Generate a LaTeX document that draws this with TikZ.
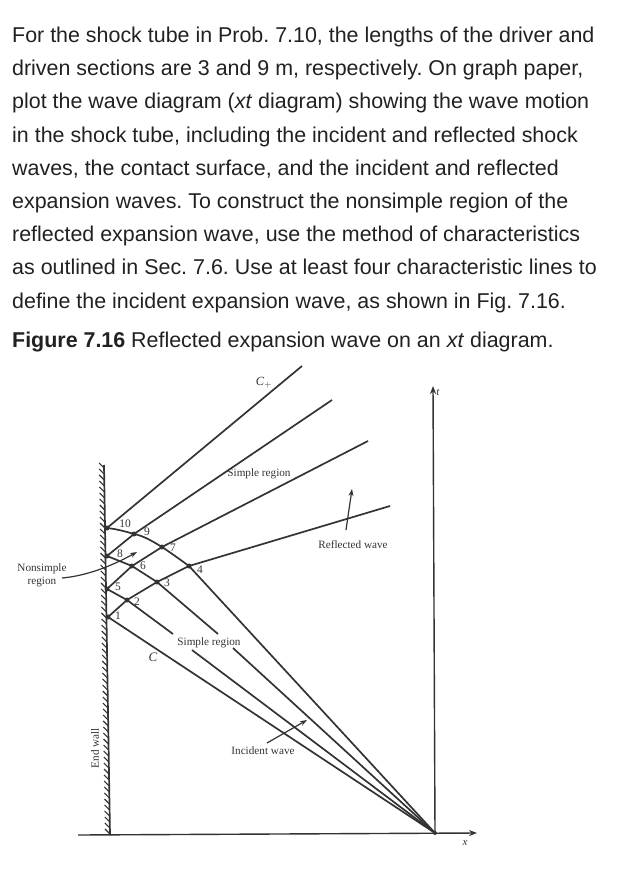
\documentclass[tikz,border=0pt]{standalone}
\usepackage{fontspec}
\setmainfont{Liberation Sans}
\newfontfamily\figserif{Liberation Serif}
\usetikzlibrary{arrows.meta}
\definecolor{ink}{gray}{0.13}
\definecolor{printink}{gray}{0.2}
\tikzset{
  para/.style={anchor=base west,inner sep=0pt,text=ink,font=\fontsize{21.42}{24}\selectfont},
  wline/.style={draw=printink,line width=1.7pt},
  thin axis/.style={draw=printink,line width=1.4pt},
  pt/.style={circle,fill=printink,inner sep=0pt,minimum size=5pt},
  lab/.style={inner sep=0pt,text=printink,font=\figserif\fontsize{11.2}{12.5}\selectfont,align=center},
  num/.style={inner sep=0pt,text=printink,font=\figserif\fontsize{11.5}{12}\selectfont},
  pointer/.style={draw=printink,line width=1.2pt,-{Stealth[length=7pt,width=5pt]}},
  hatch/.style={draw=printink,line width=1.1pt}
}
\begin{document}
\begin{tikzpicture}[x=1pt,y=-1pt]
\useasboundingbox (0,0) rectangle (627,874);
% paragraph
\frenchspacing
\node[para] (l1) at (12,43) {For the shock tube in Prob. 7.10, the lengths of the driver and};
\node[para] (l2) at (12,76) {driven sections are 3 and 9 m, respectively. On graph paper,};
\node[para] (l3) at (12,109) {plot the wave diagram (\textit{xt} diagram) showing the wave motion};
\node[para] (l4) at (12,142.5) {in the shock tube, including the incident and reflected shock};
\node[para] (l5) at (12,175.5) {waves, the contact surface, and the incident and reflected};
\node[para] (l6) at (12,208.5) {expansion waves. To construct the nonsimple region of the};
\node[para] (l7) at (12,241.5) {reflected expansion wave, use the method of characteristics};
\node[para] (l8) at (12,275) {as outlined in Sec. 7.6. Use at least four characteristic lines to};
\node[para] (l9) at (12,308) {define the incident expansion wave, as shown in Fig. 7.16.};
\node[para] (cap) at (12,347.5) {\textbf{Figure 7.16} Reflected expansion wave on an \textit{xt} diagram.};
% wall hatching
\foreach \y in {468,474,...,834}{
  \pgfmathsetmacro{\wx}{104+(\y-465)*6/370}
  \draw[hatch] (\wx-5,\y-5) -- (\wx,\y);
}
% axes and wall
\coordinate (wt) at (104,465);
\coordinate (wb) at (110,835);
\coordinate (xl) at (78,835);
\coordinate (xr) at (477,833);
\coordinate (tt) at (433,386);
\node[pt,minimum size=4pt] (O) at (435,833) {};
\draw[wline] (wt) -- (wb);
\draw[thin axis,-{Stealth[length=8pt,width=6pt]}] (xl) -- (xr);
\draw[thin axis,-{Stealth[length=8pt,width=6pt]}] (O.center) -- (tt);
% characteristic points
\node[pt] (p1) at (108,617) {};
\node[pt] (p2) at (127,600) {};
\node[pt] (p3) at (157,582) {};
\node[pt] (p4) at (189,566) {};
\node[pt] (p5) at (107,589) {};
\node[pt] (p6) at (132,566) {};
\node[pt] (p7) at (162,547) {};
\node[pt] (p8) at (107,556) {};
\node[pt] (p9) at (134,534) {};
\node[pt] (p10) at (107,528) {};
% free ends
\coordinate (e1) at (390,506);
\coordinate (e2) at (368,441);
\coordinate (e3) at (332,400);
\coordinate (e4) at (302,366);
\coordinate (g2a) at (173,634);
\coordinate (g2b) at (192,650);
\coordinate (g3a) at (218,634);
\coordinate (g3b) at (233,648);
% C+ lines
\draw[wline] (p1.center) -- (p2.center) -- (p3.center) -- (p4.center) -- (e1);
\draw[wline] (p5.center) -- (p6.center) -- (p7.center) -- (e2);
\draw[wline] (p8.center) -- (p9.center) -- (e3);
\draw[wline] (p10.center) -- (e4);
% C- lines
\draw[wline] (O.center) -- (p1.center);
\draw[wline] (O.center) -- (g2b) (g2a) -- (p2.center) -- (p5.center);
\draw[wline] (O.center) -- (g3b) (g3a) -- (p3.center) -- (p6.center) -- (p8.center);
\draw[wline] (O.center) -- (p4.center) .. controls (178,558) and (171,553) .. (p7.center) .. controls (152,541) and (144,536) .. (p9.center) .. controls (124,531) and (116,529) .. (p10.center);
% labels
\node[num] (n1) at (118,616) {1};
\node[num] (n2) at (137,602) {2};
\node[num] (n3) at (167,583) {3};
\node[num] (n4) at (200,570) {4};
\node[num] (n5) at (118,587) {5};
\node[num] (n6) at (143,566) {6};
\node[num] (n7) at (173,548) {7};
\node[num] (n8) at (120,554) {8};
\node[num] (n9) at (147,532) {9};
\node[num] (n10) at (125,524) {10};
\node[lab] (nons) at (42,575.5) {Nonsimple\\region};
\node[lab] (simple1) at (259,474) {Simple region};
\node[lab] (simple2) at (209,643) {Simple region};
\node[lab] (refl) at (353,545) {Reflected wave};
\node[lab] (inc) at (263,751) {Incident wave};
\node[lab,rotate=90] (end) at (95,748) {End wall};
\node[lab,font=\figserif\itshape\fontsize{12.5}{13}\selectfont] (cp) at (264,383) {C$_{+}$};
\node[lab,font=\figserif\itshape\fontsize{13}{13}\selectfont] (cm) at (153,657) {C};
\node[lab,font=\figserif\itshape\fontsize{11}{12}\selectfont] (tl) at (438,392) {t};
\node[lab,font=\figserif\itshape\fontsize{11}{12}\selectfont] (xlab) at (465,843) {x};
% pointers
\coordinate (a1) at (137,552);
\coordinate (a2) at (352,489);
\coordinate (a3) at (307,720);
\coordinate (t1) at (62,578);
\coordinate (t2) at (346,530);
\coordinate (t3) at (267,743);
\draw[pointer] (t1) .. controls (85,576) and (110,567) .. (a1);
\draw[pointer] (t2) -- (a2);
\draw[pointer] (t3) -- (a3);
\end{tikzpicture}
\end{document}
